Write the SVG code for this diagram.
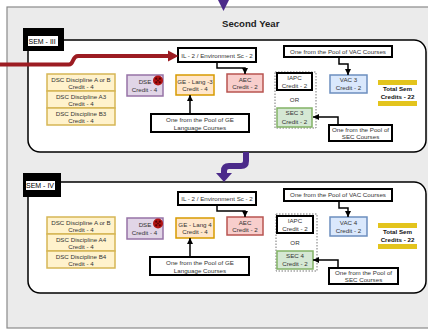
<svg xmlns="http://www.w3.org/2000/svg" width="428" height="330" viewBox="0 0 428 330">
<defs>
<style>
text{font-family:"Liberation Sans",Arial,sans-serif;font-size:6.2px;fill:#333;text-anchor:middle}
.b{font-weight:bold;fill:#111}
.sem{fill:#fff;stroke:#000;stroke-width:1.5}
.dsc{fill:#fff2cc;stroke:#d6b656;stroke-width:1.5}
.dse{fill:#e1d5e7;stroke:#9673a6;stroke-width:1.5}
.ge{fill:#ffe6cc;stroke:#d79b00;stroke-width:1.5}
.aec{fill:#f8cecc;stroke:#b85450;stroke-width:1.5}
.vac{fill:#dae8fc;stroke:#6c8ebf;stroke-width:1.5}
.sec{fill:#d5e8d4;stroke:#82b366;stroke-width:1.5}
.bk{fill:#fff;stroke:#000;stroke-width:2}
.grp{fill:none;stroke:#777;stroke-width:1;stroke-dasharray:1.5 1.5}
.bar{fill:#e3c41d}
.c{fill:none;stroke:#000;stroke-width:1.5}
.lbl{fill:#000;font-size:7px;text-anchor:start}
</style>
<marker id="ah" viewBox="0 0 10 10" refX="10" refY="5" markerWidth="6" markerHeight="6" markerUnits="userSpaceOnUse" orient="auto"><path d="M0,0 L10,5 L0,10 z" fill="#000"/></marker>
<g id="dseicon">
<circle r="5" fill="#b01212"/>
<circle cx="-1.8" cy="-1.8" r="1.1" fill="#5a0000"/>
<circle cx="1.8" cy="-1.8" r="1.1" fill="#5a0000"/>
<circle cx="-1.8" cy="1.8" r="1.1" fill="#5a0000"/>
<circle cx="1.8" cy="1.8" r="1.1" fill="#5a0000"/>
<circle r="0.9" fill="#5a0000"/>
</g>
</defs>
<rect width="428" height="330" fill="#fff"/>
<rect id="year" x="7" y="7" width="430" height="321" fill="#ebebeb" stroke="#8a8a8a" stroke-width="1.2"/>
<polygon points="218,0 229,0 223.5,11" fill="#4b2a8a"/>
<text x="222" y="26.5" class="b" style="font-size:9.6px;text-anchor:start;fill:#222">Second Year</text>

<!-- SEM III -->
<g id="sem3">
<rect class="sem" x="28" y="40" width="398" height="112" rx="12"/>
<rect x="23" y="28" width="41" height="23" fill="#000"/>
<rect x="28" y="36" width="30" height="10" fill="#fff"/>
<text x="28.5" y="44" class="lbl">SEM - III</text>
</g>
<g id="s3-dsc1"><rect class="dsc" x="47" y="74" width="68" height="17"/><text x="81" y="81.5">DSC  Discipline A or B</text><text x="81" y="88.5">Credit - 4</text></g>
<g id="s3-dsc2"><rect class="dsc" x="47" y="91" width="68" height="17"/><text x="81" y="98.5">DSC  Discipline A3</text><text x="81" y="105.5">Credit - 4</text></g>
<g id="s3-dsc3"><rect class="dsc" x="47" y="108" width="68" height="17"/><text x="81" y="115.5">DSC  Discipline B3</text><text x="81" y="122.5">Credit - 4</text></g>
<g id="s3-dse"><rect class="dse" x="127" y="75" width="36" height="21"/><text x="145" y="84">DSE</text><text x="144.5" y="92">Credit - 4</text><use href="#dseicon" x="158" y="80.5"/></g>
<g id="s3-ge"><rect class="ge" x="176" y="75" width="38" height="20"/><text x="195" y="83.5">GE - Lang -3</text><text x="195" y="91">Credit - 4</text></g>
<g id="s3-aec"><rect class="aec" x="227" y="74" width="36" height="18"/><text x="245" y="81.5">AEC</text><text x="245" y="89">Credit - 2</text></g>
<g id="s3-l2"><rect class="bk" x="178" y="48" width="78" height="14"/><text x="217" y="57.5">IL - 2 / Environment Sc - 2</text></g>
<g id="s3-gepool"><rect class="bk" x="151" y="114" width="98" height="18"/><text x="200" y="121.5">One from the Pool of GE</text><text x="200" y="129.5">Language  Courses</text></g>
<g id="s3-iapcgrp"><rect class="grp" x="275" y="72" width="41" height="56"/><text x="294.5" y="101.5">OR</text></g>
<g id="s3-iapc"><rect class="bk" x="277" y="73" width="35" height="17"/><text x="294.5" y="80">IAPC</text><text x="294.5" y="87.5">Credit - 2</text></g>
<g id="s3-sec"><rect class="sec" x="277" y="108" width="35" height="19"/><text x="294.5" y="115">SEC 3</text><text x="294.5" y="123.5">Credit - 2</text></g>
<g id="s3-secpool"><rect class="bk" x="329" y="125" width="63" height="16"/><text x="360.5" y="131.5">One from the Pool of</text><text x="360.5" y="139">SEC Courses</text></g>
<g id="s3-vacpool"><rect class="bk" x="284" y="46" width="108" height="11"/><text x="338" y="53.7">One from the Pool of VAC Courses</text></g>
<g id="s3-vac"><rect class="vac" x="330" y="75" width="37" height="18"/><text x="348.5" y="82">VAC 3</text><text x="348.5" y="89.7">Credit - 2</text></g>
<g id="s3-total"><rect class="bar" x="378" y="80" width="39" height="5"/><rect class="bar" x="378" y="101" width="39" height="5"/><text class="b" x="397.5" y="91">Total Sem</text><text class="b" x="397.5" y="99">Credits - 22</text></g>

<!-- SEM IV -->
<g id="sem4">
<rect class="sem" x="28" y="182" width="398" height="111" rx="12"/>
<rect x="23" y="173" width="38" height="24" fill="#000"/>
<rect x="26" y="181" width="29" height="9" fill="#fff"/>
<text x="26" y="188.3" class="lbl">SEM - IV</text>
</g>
<g transform="translate(0,143)">
<g id="s4-dsc1"><rect class="dsc" x="47" y="74" width="68" height="17"/><text x="81" y="81.5">DSC  Discipline A or B</text><text x="81" y="88.5">Credit - 4</text></g>
<g id="s4-dsc2"><rect class="dsc" x="47" y="91" width="68" height="17"/><text x="81" y="98.5">DSC  Discipline A4</text><text x="81" y="105.5">Credit - 4</text></g>
<g id="s4-dsc3"><rect class="dsc" x="47" y="108" width="68" height="17"/><text x="81" y="115.5">DSC  Discipline B4</text><text x="81" y="122.5">Credit - 4</text></g>
<g id="s4-dse"><rect class="dse" x="127" y="75" width="36" height="21"/><text x="145" y="84">DSE</text><text x="144.5" y="92">Credit - 4</text><use href="#dseicon" x="158" y="80.5"/></g>
<g id="s4-ge"><rect class="ge" x="176" y="75" width="38" height="20"/><text x="195" y="83.5">GE - Lang  4</text><text x="195" y="91">Credit - 4</text></g>
<g id="s4-aec"><rect class="aec" x="227" y="74" width="36" height="18"/><text x="245" y="81.5">AEC</text><text x="245" y="89">Credit - 2</text></g>
<g id="s4-l2"><rect class="bk" x="178" y="49" width="78" height="13"/><text x="217" y="58">IL - 2 / Environment Sc - 2</text></g>
<g id="s4-gepool"><rect class="bk" x="150" y="114" width="99" height="18"/><text x="200" y="121.5">One from the Pool of GE</text><text x="200" y="129.5">Language  Courses</text></g>
<g id="s4-iapcgrp"><rect class="grp" x="276" y="71" width="41" height="57"/><text x="295" y="101.5">OR</text></g>
<g id="s4-iapc"><rect class="bk" x="277" y="73" width="36" height="17"/><text x="295" y="80">IAPC</text><text x="295" y="87.5">Credit - 2</text></g>
<g id="s4-sec"><rect class="sec" x="277" y="108" width="36" height="18"/><text x="295" y="115">SEC 4</text><text x="295" y="123">Credit - 2</text></g>
<g id="s4-secpool"><rect class="bk" x="329" y="125" width="69" height="16"/><text x="363.5" y="131.5">One from the Pool of</text><text x="363.5" y="139">SEC Courses</text></g>
<g id="s4-vacpool"><rect class="bk" x="284" y="46" width="108" height="12"/><text x="338" y="54">One from the Pool of VAC Courses</text></g>
<g id="s4-vac"><rect class="vac" x="330" y="74" width="37" height="19"/><text x="348.5" y="81.5">VAC 4</text><text x="348.5" y="89.5">Credit - 2</text></g>
<g id="s4-total"><rect class="bar" x="378" y="80" width="39" height="5"/><rect class="bar" x="378" y="101" width="39" height="5"/><text class="b" x="397.5" y="91">Total Sem</text><text class="b" x="397.5" y="99">Credits - 22</text></g>
</g>

<!-- connectors -->
<g id="connectors">
<path d="M0,64.5 H69 C74,64.5 72,56 78,56 H170" fill="none" stroke="#9c1c22" stroke-width="4"/>
<polygon points="168,50.5 178.5,56 168,61.5" fill="#9c1c22"/>
<path d="M246,152 V161 Q246,166 241,166 H229 Q224,166 224,171 V174" fill="none" stroke="#4b2a8a" stroke-width="6"/>
<polygon points="216,173 232,173 224,182" fill="#4b2a8a"/>
<path class="c" d="M190,114 V95" marker-end="url(#ah)"/>
<path class="c" d="M217,62 V68 H245 V74" marker-end="url(#ah)"/>
<path class="c" d="M338,125 V117 H313" marker-end="url(#ah)"/>
<path class="c" d="M339,57 V64 H348 V75" marker-end="url(#ah)"/>
<g transform="translate(0,143)">
<path class="c" d="M190,114 V95" marker-end="url(#ah)"/>
<path class="c" d="M217,62 V68 H245 V74" marker-end="url(#ah)"/>
<path class="c" d="M338,125 V117 H313" marker-end="url(#ah)"/>
<path class="c" d="M339,58 V65 H348 V74" marker-end="url(#ah)"/>
</g>
</g>
</svg>
